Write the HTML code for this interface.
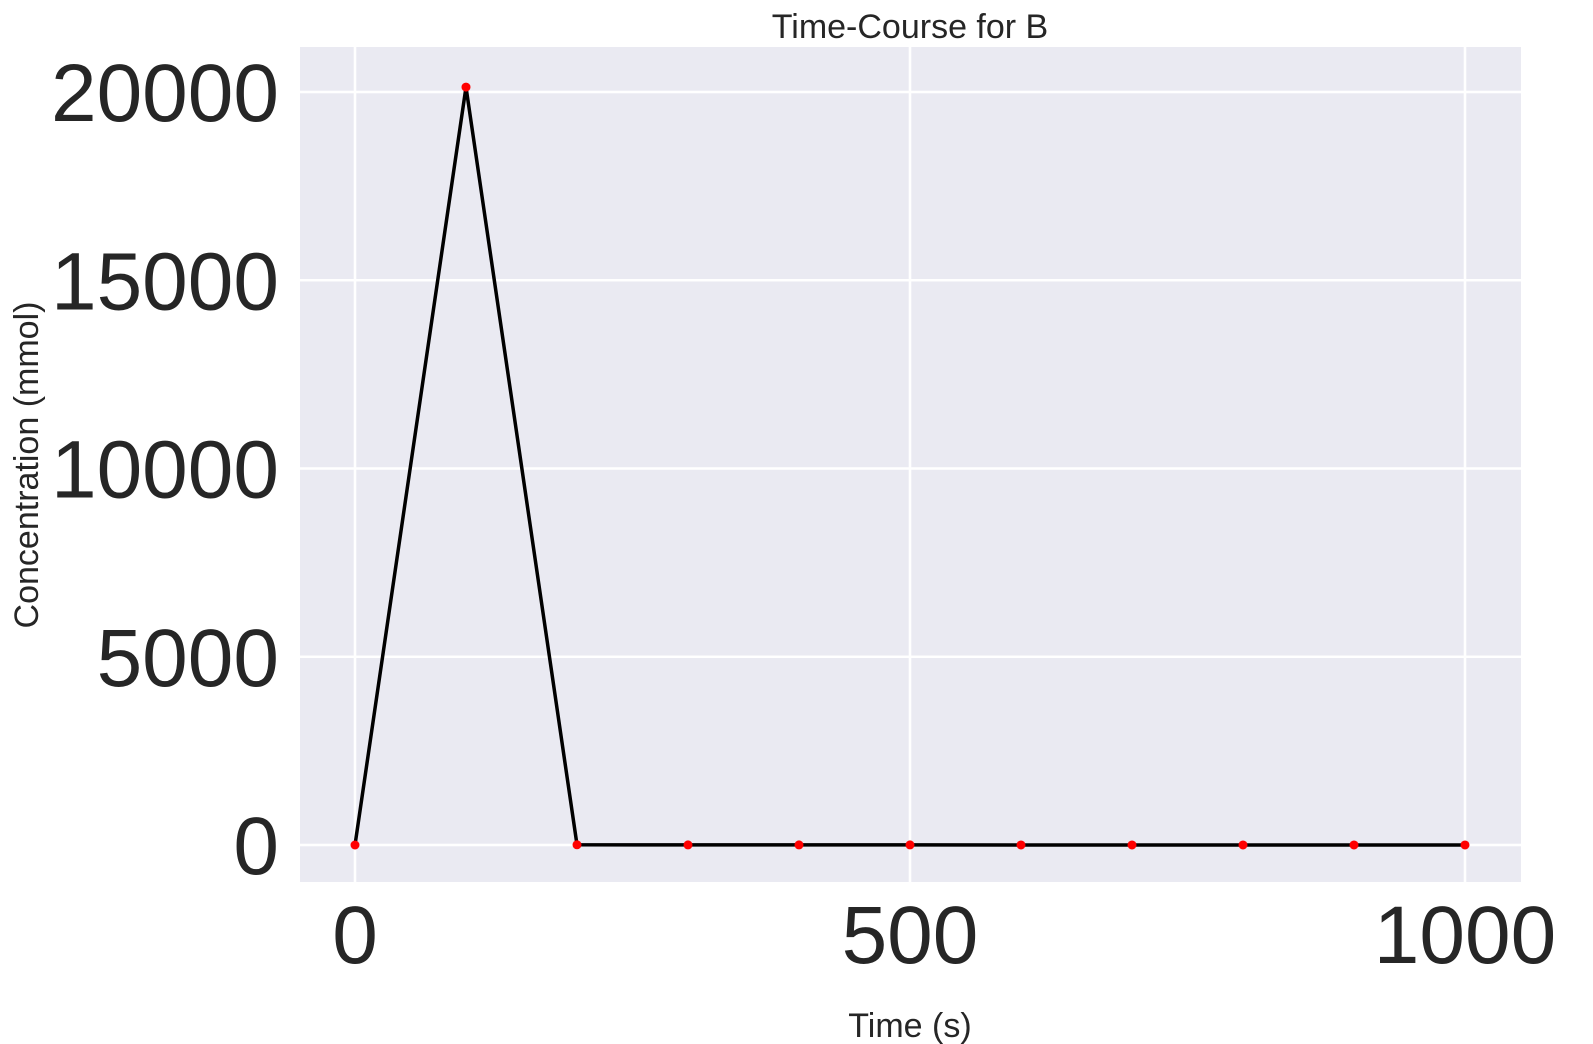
<!DOCTYPE html>
<html><head><meta charset="utf-8"><style>
body{margin:0;background:#fff;}
svg{display:block;font-family:"Liberation Sans",Arial,sans-serif;}
</style></head><body>
<svg id="chart" width="1593" height="1044"></svg>
<script>
const times=[0,100,200,300,400,500,600,700,800,900,1000];
const values=[0,20130,5,3,2,2,1,1,1,1,1];
const xTicks=[0,500,1000];
const yTicks=[0,5000,10000,15000,20000];
const ns="http://www.w3.org/2000/svg";
const svg=document.getElementById('chart');
const L=300,R=1521,T=47,B=882;
const xs=v=>355+v*(1465-355)/1000;
const ys=v=>845-v*(845-92)/20000;
function mk(tag,attrs,parent){const e=document.createElementNS(ns,tag);for(const k in attrs)e.setAttribute(k,attrs[k]);(parent||svg).appendChild(e);return e;}
const bg=mk('rect',{x:L,y:T,width:R-L,height:B-T,fill:'#eaeaf2'});


xTicks.forEach(t=>{
 const g=mk('line',{x1:xs(t),x2:xs(t),y1:T,y2:B,stroke:'#fff','stroke-width':2.5});
 
 
 const tx=mk('text',{x:xs(t),y:963,'text-anchor':'middle','font-size':82,fill:'#262626'});
 tx.textContent=t;
 
 
});
yTicks.forEach(t=>{
 const g=mk('line',{x1:L,x2:R,y1:ys(t),y2:ys(t),stroke:'#fff','stroke-width':2.5});
 
 
 const tx=mk('text',{x:279,y:ys(t)+29,'text-anchor':'end','font-size':82,fill:'#262626'});
 tx.textContent=t;
 
 
});
const line=mk('polyline',{points:times.map((t,i)=>xs(t)+','+ys(values[i])).join(' '),fill:'none',stroke:'#000','stroke-width':3.5});


times.forEach((t,i)=>{
 const c=mk('circle',{cx:xs(t),cy:ys(values[i]),r:4.5,fill:'red'});
 
 
});
const title=mk('text',{x:910,y:38,'text-anchor':'middle','font-size':34,fill:'#262626'});
title.textContent='Time-Course for B';


const xl=mk('text',{x:910,y:1037,'text-anchor':'middle','font-size':34,fill:'#262626'});
xl.textContent='Time (s)';


const yl=mk('text',{x:0,y:0,'text-anchor':'middle','font-size':34,fill:'#262626',transform:'translate(38,465) rotate(-90)'});
yl.textContent='Concentration (mmol)';


</script>
</body></html>
